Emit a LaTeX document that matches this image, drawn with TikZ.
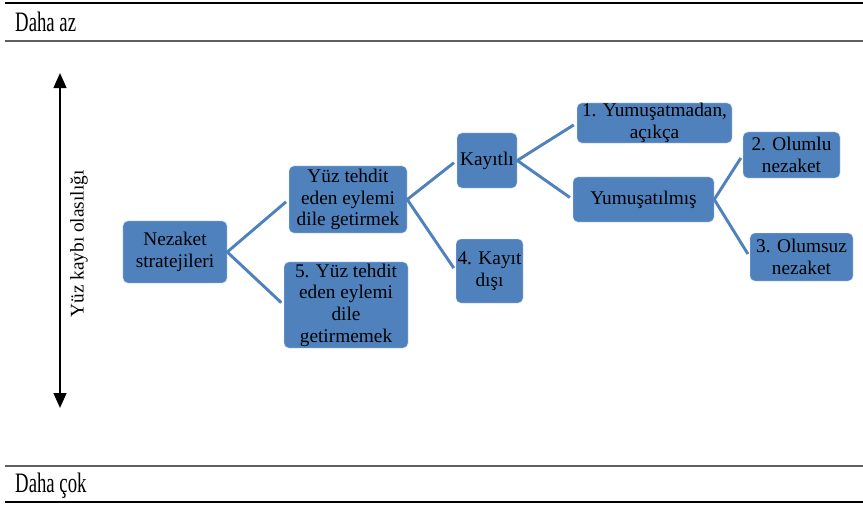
\documentclass[tikz,border=0pt]{standalone}
\usepackage{fontspec}
\setmainfont{Liberation Serif}
\usepackage{graphicx}
\usepackage{tikz}
\usetikzlibrary{positioning}
\usetikzlibrary{arrows.meta}
\definecolor{boxblue}{RGB}{79,129,189}
\definecolor{rulegray}{RGB}{95,95,95}
\tikzstyle{box} = [rectangle,rounded corners=4pt,fill=boxblue,draw=white!75!boxblue,line width=0.4pt,align=center,inner sep=0pt,font=\fontsize{16.5}{18.5}\selectfont]
\tikzstyle{link} = [draw=boxblue,line width=2.5pt,shorten <=3pt,shorten >=3pt]
\newcommand{\tall}[1]{\scalebox{1}[1.5]{#1}}

\begin{document}
\begin{tikzpicture}
	[x=0.03cm,y=-0.03cm]
	\tikzstyle{rule}=[line width=0.9pt];
	\tikzstyle{level}=[anchor=west,inner sep=0pt,font=\fontsize{16}{18}\selectfont];
	\useasboundingbox (0,0) rectangle (863,507);
	
	% levels
	\draw[rule] (5,3) -- (863,3);
	\draw[rule,rulegray,line width=1.7pt] (5,41) -- (863,41);
	\draw[rule,rulegray,line width=1.7pt] (5,466) -- (863,466);
	\draw[rule,line width=1.2pt] (5,502) -- (863,502);
	\node (az) [level] at (15,22) {\tall{Daha az}};
	\node (cok) [level] at (15,486) {\tall{Daha çok}};
	
	% axis
	\coordinate (top) at (60,73);
	\coordinate (bot) at (60,408);
	\draw[{Triangle[length=0.45cm,width=0.38cm]}-{Triangle[length=0.45cm,width=0.38cm]},line width=2pt] (top) -- (bot);
	\node (axis) [rotate=90,inner sep=0pt,font=\fontsize{16.5}{18}\selectfont] at (79,244) {Yüz kaybı olasılığı};
	
	\node (1) [box,minimum width=3.12cm,minimum height=1.86cm] at (175,252) {Nezaket\\stratejileri};
	\node (2) [box,minimum width=3.54cm,minimum height=2.01cm] at (348,199.5) {Yüz tehdit\\eden eylemi\\dile getirmek};
	\node (3) [box,minimum width=3.72cm,minimum height=2.58cm] at (346,305) {5. Yüz tehdit\\eden eylemi\\dile\\getirmemek};
	\node (4) [box,minimum width=1.80cm,minimum height=1.65cm] at (487,160.5) {Kayıtlı};
	\node (5) [box,minimum width=2.01cm,minimum height=1.92cm] at (489.5,271) {4. Kayıt\\dışı};
	\node (6) [box,minimum width=4.65cm,minimum height=1.20cm] at (654.5,123) {1. Yumuşatmadan,\\açıkça};
	\node (7) [box,minimum width=4.23cm,minimum height=1.35cm] at (643.5,199.5) {Yumuşatılmış};
	\node (8) [box,minimum width=2.91cm,minimum height=1.38cm] at (791.5,155) {2. Olumlu\\nezaket};
	\node (9) [box,minimum width=3.09cm,minimum height=1.44cm] at (801.5,257) {3. Olumsuz\\nezaket};
	
	\draw[link] (2.west) -- (1.east) -- (3.west);
	\draw[link] (4.west) -- (2.east) -- (5.west);
	\draw[link] (6.west) -- (4.east) -- (7.west);
	\draw[link] (8.west) -- (7.east) -- (9.west);
\end{tikzpicture}
\end{document}
